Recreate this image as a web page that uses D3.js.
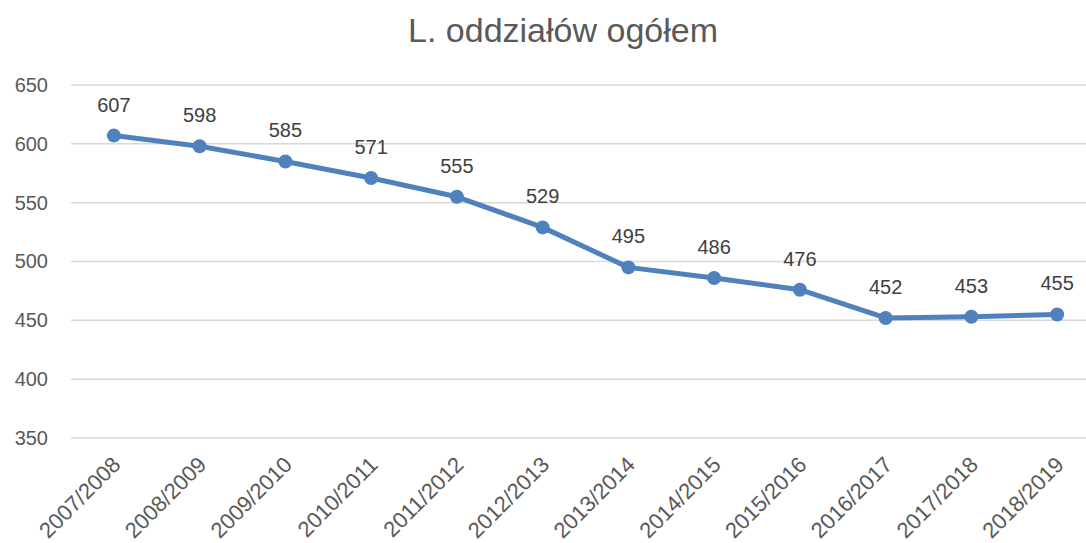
<!DOCTYPE html>
<html>
<head>
<meta charset="utf-8">
<script src="https://cdn.jsdelivr.net/npm/d3@7"></script>
<style>
  body { margin: 0; background: #fff; }
  svg { display: block; font-family: "Liberation Sans", Arial, sans-serif; }
</style>
</head>
<body>
<div id="chart"></div>
<script>
// data
var years = ["2007/2008", "2008/2009", "2009/2010", "2010/2011", "2011/2012", "2012/2013",
             "2013/2014", "2014/2015", "2015/2016", "2016/2017", "2017/2018", "2018/2019"];
var oddzialy = [607, 598, 585, 571, 555, 529, 495, 486, 476, 452, 453, 455];
var yTicks = [350, 400, 450, 500, 550, 600, 650];
var title = "L. oddziałów ogółem";

var width = 1086, height = 543;
var margin = {top: 85, left: 71, right: -14, bottom: 105};

var svg = d3.select("#chart")
  .append("svg")
  .attr("width", width)
  .attr("height", height);

var x = d3.scaleBand()
  .domain(years)
  .range([margin.left, width - margin.right]);

var y = d3.scaleLinear()
  .domain([350, 650])
  .range([height - margin.bottom, margin.top]);

// gridlines
svg.append("g")
  .selectAll("line")
  .data(yTicks)
  .enter()
  .append("line")
  .attr("x1", margin.left)
  .attr("x2", width - margin.right)
  .attr("y1", function(d) { return y(d); })
  .attr("y2", function(d) { return y(d); })
  .style("stroke", "#d9d9d9")
  .style("stroke-width", 1.5);

// y axis labels
var yAxis = svg.append("g")
  .attr("transform", "translate(" + (margin.left - 23) + ",0)")
  .call(d3.axisLeft(y).tickValues(yTicks).tickSize(0).tickPadding(0));
yAxis.select(".domain").remove();
yAxis.selectAll("text")
  .style("font-size", "20px")
  .style("fill", "#595959")
  .style("font-family", "'Liberation Sans', Arial, sans-serif");

// x axis labels
var xAxis = svg.append("g")
  .attr("transform", "translate(0," + (height - margin.bottom) + ")")
  .call(d3.axisBottom(x).tickSize(0).tickPadding(0));
xAxis.select(".domain").remove();
xAxis.selectAll("text")
  .style("font-size", "22px")
  .style("fill", "#595959")
  .style("font-family", "'Liberation Sans', Arial, sans-serif")
  .style("text-anchor", "end")
  .attr("dy", null)
  .attr("y", 0)
  .attr("transform", "translate(8,28) rotate(-45)");

var cx = function(d, i) { return x(years[i]) + x.bandwidth() / 2; };

// line
var line = d3.line()
  .x(function(d, i) { return cx(d, i); })
  .y(function(d) { return y(d); });

svg.append("path")
  .datum(oddzialy)
  .attr("d", line)
  .style("fill", "none")
  .style("stroke", "#4f81bd")
  .style("stroke-width", 5)
  .style("stroke-linejoin", "round");

svg.append("g")
  .selectAll("circle")
  .data(oddzialy)
  .enter()
  .append("circle")
  .attr("cx", cx)
  .attr("cy", function(d) { return y(d); })
  .attr("r", 7)
  .style("fill", "#4f81bd");

// data labels
svg.append("g")
  .selectAll("text")
  .data(oddzialy)
  .enter()
  .append("text")
  .attr("x", cx)
  .attr("y", function(d) { return y(d) - 24; })
  .attr("text-anchor", "middle")
  .style("font-size", "20px")
  .style("fill", "#404040")
  .text(function(d) { return d; });

// title
svg.append("text")
  .attr("x", 563)
  .attr("y", 42)
  .attr("text-anchor", "middle")
  .style("font-size", "34px")
  .style("fill", "#595959")
  .text(title);
</script>
</body>
</html>
